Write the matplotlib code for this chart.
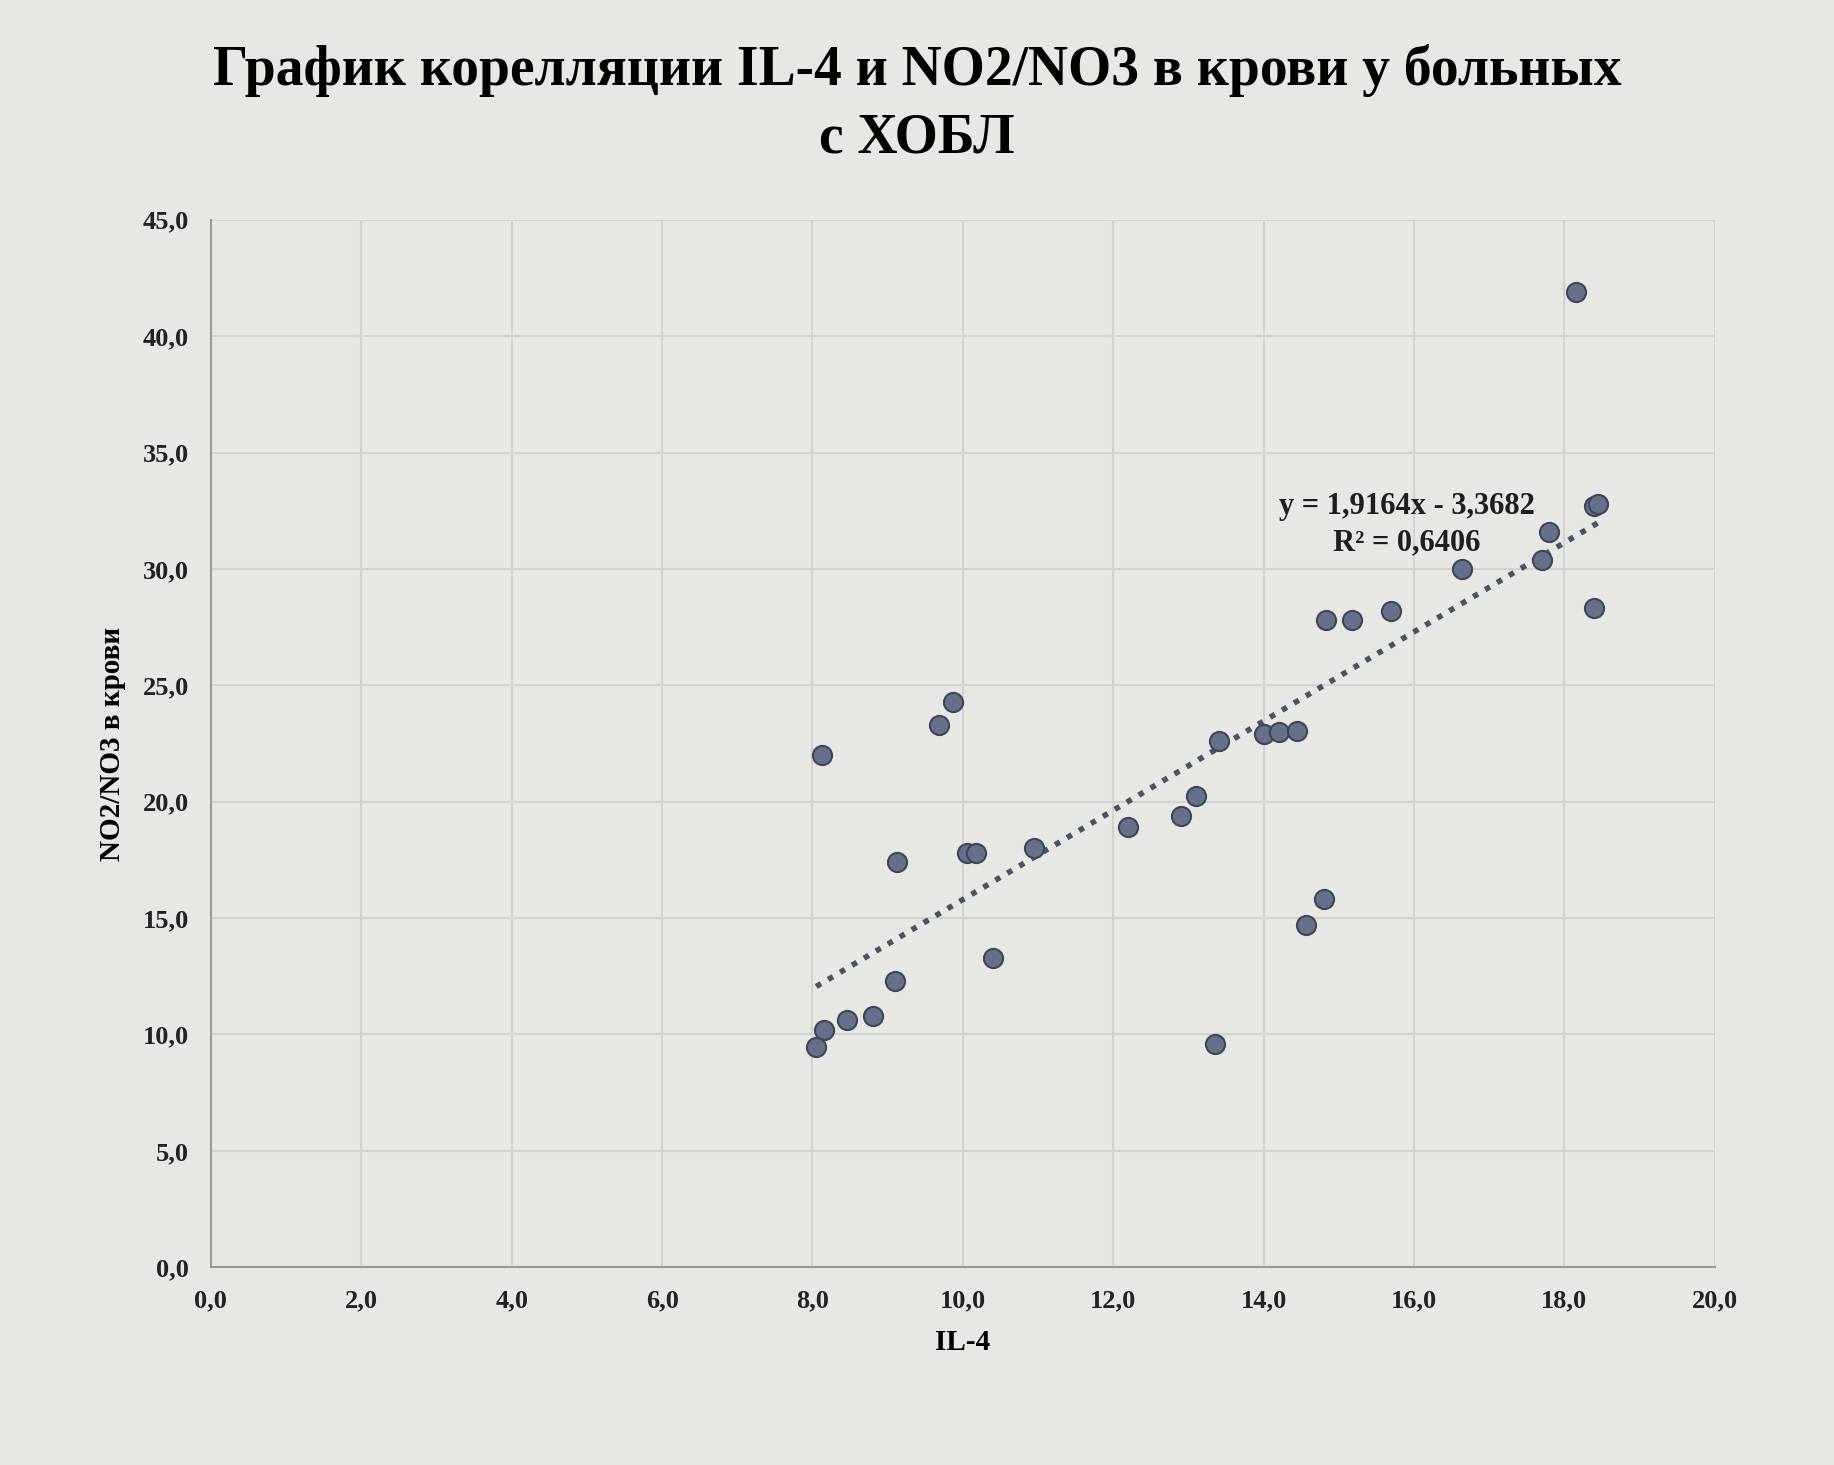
import numpy as np
import matplotlib
matplotlib.use("Agg")
import matplotlib.pyplot as plt
from matplotlib.ticker import FuncFormatter

plt.rcParams['font.family'] = ['Liberation Serif', 'DejaVu Serif']
plt.rcParams['font.weight'] = 'bold'

# IL-4 vs NO2/NO3
il4 = [18.15, 18.40, 18.45, 17.80, 17.70, 18.40, 16.64, 15.70, 15.17, 14.83,
       9.87, 9.68, 8.13, 13.41, 14.00, 14.20, 14.45, 13.10, 12.90, 12.20,
       10.94, 10.05, 10.17, 9.12, 14.80, 14.57, 10.40, 9.10, 8.80, 8.46,
       8.16, 8.05, 13.35]
no2no3 = [41.9, 32.7, 32.8, 31.6, 30.4, 28.3, 30.0, 28.2, 27.8, 27.8,
          24.3, 23.3, 22.0, 22.6, 22.9, 23.0, 23.05, 20.25, 19.4, 18.9,
          18.0, 17.8, 17.8, 17.4, 15.8, 14.7, 13.3, 12.3, 10.8, 10.6,
          10.2, 9.45, 9.6]

slope = 1.9164
intercept = -3.3682
r2_text = "y = 1,9164x - 3,3682\nR² = 0,6406"

title = "График корелляции IL-4 и NO2/NO3 в крови у больных\nс ХОБЛ"
x_label = "IL-4"
y_label = "NO2/NO3 в крови"

bg = '#e7e7e4'
fig = plt.figure(figsize=(18.34, 14.65), dpi=100, facecolor=bg)
ax = fig.add_axes([0.115, 0.135, 0.82, 0.715], facecolor=bg)

ax.scatter(il4, no2no3, s=190, color='#65708a', edgecolors='#3e4658',
           linewidths=1.5, zorder=3)

xs = np.array([min(il4), max(il4)])
ax.plot(xs, slope * xs + intercept, linestyle=(0, (1, 1.5)), color='#4a5266',
        linewidth=4, zorder=2)

ax.text(15.9, 31.9, r2_text, ha='center', va='center', fontsize=22,
        fontweight='bold', color='#1e1e1e', linespacing=1.3, zorder=4)

ax.set_xlim(0, 20)
ax.set_ylim(0, 45)
ax.set_xticks(np.arange(0, 20.1, 2))
ax.set_yticks(np.arange(0, 45.1, 5))
fmt = FuncFormatter(lambda v, p: ("%.1f" % v).replace('.', ','))
ax.xaxis.set_major_formatter(fmt)
ax.yaxis.set_major_formatter(fmt)
ax.tick_params(length=0, labelsize=19, pad=16, colors='#222222')
ax.grid(True, color='#d2d2cf', linewidth=1.5)
ax.set_axisbelow(True)
for side in ['top', 'right']:
    ax.spines[side].set_visible(False)
for side in ['left', 'bottom']:
    ax.spines[side].set_color('#9a9a98')
    ax.spines[side].set_linewidth(1.5)

ax.set_xlabel(x_label, fontsize=21, fontweight='bold', labelpad=12)
ax.set_ylabel(y_label, fontsize=21, fontweight='bold', labelpad=12)
fig.suptitle(title, fontsize=40, fontweight='bold', y=0.97, linespacing=1.4)

fig.savefig("out.png", dpi=100, facecolor=bg)
